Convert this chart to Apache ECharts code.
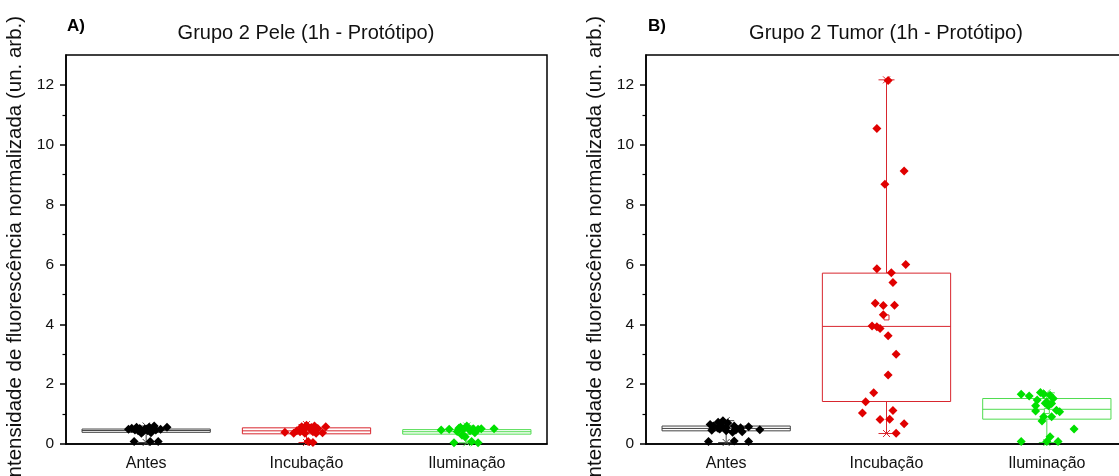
<!DOCTYPE html>
<html>
<head>
<meta charset="utf-8">
<script src="https://cdn.jsdelivr.net/npm/echarts@6/dist/echarts.min.js"></script>
<style>html,body{margin:0;padding:0;background:#fff;}#c{width:1119px;height:476px;}</style>
</head>
<body>
<div id="c"></div>
<script>
// ---------- data ----------
const categories = ['Antes', 'Incubação', 'Iluminação'];
const yTicks = [0, 2, 4, 6, 8, 10, 12];
const yMinorTicks = [1, 3, 5, 7, 9, 11];

// Panel A: Pele — summary [min, Q1, median, Q3, max, mean]
const peleStats = [
  [0.05, 0.39, 0.45, 0.50, 0.60, 0.44],
  [0.05, 0.34, 0.44, 0.54, 0.65, 0.45],
  [0.04, 0.33, 0.41, 0.48, 0.60, 0.42]
];
const peleAntes = [0.49,0.47,0.52,0.36,0.49,0.56,0.47,0.60,0.42,0.38,0.49,0.56,0.08,0.08,0.08,0.44,0.44,0.56,0.47,0.50,0.53];
const peleAntesJitter = [-0.11,-0.07,-0.04,-0.03,-0.01,0.02,0.04,0.05,-0.02,0.03,0.09,0.13,-0.075,0.025,0.075,-0.05,0.01,-0.06,0.06,0.0,-0.09];
const peleIncub = [0.39,0.36,0.44,0.58,0.63,0.52,0.36,0.41,0.52,0.38,0.58,0.41,0.08,0.05,0.36,0.47,0.55,0.60];
const peleIncubJitter = [-0.135,-0.08,-0.06,-0.03,0,0.02,-0.01,0.04,0.07,0.10,0.12,-0.04,0.01,0.04,0.06,-0.02,0.03,0.05];
const peleIlum = [0.47,0.49,0.42,0.56,0.49,0.60,0.44,0.51,0.49,0.51,0.51,0.29,0.04,0.08,0.04,0.24,0.38,0.53];
const peleIlumJitter = [-0.16,-0.11,-0.06,-0.04,-0.02,0,0.02,0.04,0.07,0.09,0.17,-0.03,-0.08,0.03,0.07,-0.01,0.05,-0.05];

// Panel B: Tumor
const tumorStats = [
  [0.05, 0.44, 0.52, 0.60, 0.78, 0.50],
  [0.35, 1.42, 3.93, 5.71, 12.17, 4.23],
  [0.05, 0.83, 1.16, 1.52, 1.71, 1.10]
];
const tumorAntes = [0.65,0.60,0.53,0.73,0.78,0.70,0.60,0.50,0.44,0.39,0.54,0.58,0.48,0.46,0.41,0.08,0.10,0.08,0.63,0.55,0.47];
const tumorAntesJitter = [-0.10,-0.08,-0.05,-0.05,-0.02,0.01,0.05,-0.04,0,0.04,0.09,0.14,0.21,-0.09,0.10,-0.11,0.05,0.14,-0.03,0.0,0.06];
const tumorIncub = [12.15,10.54,9.12,8.68,6.00,5.86,5.72,5.40,4.70,4.63,4.64,4.32,3.94,3.92,3.86,3.62,3.00,2.31,1.71,1.41,1.12,1.04,0.82,0.83,0.68,0.36];
const tumorIncubJitter = [0.01,-0.06,0.11,-0.01,0.12,-0.06,0.03,0.04,-0.07,-0.02,0.05,-0.02,-0.09,-0.06,-0.04,0.01,0.06,0.01,-0.08,-0.13,0.04,-0.15,-0.04,0.02,0.11,0.06];
const tumorIlum = [1.66,1.60,1.72,1.66,1.47,1.63,1.52,1.36,1.28,1.28,1.13,1.08,1.10,0.91,0.91,0.77,0.50,0.24,0.08,0.08,0.08,1.40,1.35];
const tumorIlumJitter = [-0.16,-0.11,-0.04,-0.02,-0.06,0.02,0.04,-0.01,-0.07,0.01,0.06,0.08,-0.07,-0.02,0.03,-0.03,0.17,0.02,-0.16,0.0,0.07,0.0,0.03];

// ---------- styles ----------
const boxColors = ['#444444', '#d8262e', '#4fdc4f'];
const pointColors = ['#000000', '#e00000', '#00e000'];
const FONT = 'Liberation Sans, Arial, sans-serif';

function pts(vals, jit, idx) {
  return vals.map((v, i) => [idx + jit[i], v]);
}

function boxRender(params, api) {
  const i = api.value(0);
  const mn = api.value(1), q1 = api.value(2), md = api.value(3), q3 = api.value(4), mx = api.value(5), mean = api.value(6);
  const col = boxColors[i];
  const half = api.size([1, 0])[0] * 0.4;
  const cx = api.coord([i, md])[0];
  const y = v => api.coord([i, v])[1];
  const st = { stroke: col, lineWidth: 1, fill: null };
  const capW = 8, xs = 3.5;
  const ch = [
    { type: 'line', shape: { x1: cx, y1: y(q3), x2: cx, y2: y(mx) }, style: st },
    { type: 'line', shape: { x1: cx, y1: y(q1), x2: cx, y2: y(mn) }, style: st },
    { type: 'line', shape: { x1: cx - capW, y1: y(mx), x2: cx + capW, y2: y(mx) }, style: st },
    { type: 'line', shape: { x1: cx - capW, y1: y(mn), x2: cx + capW, y2: y(mn) }, style: st },
    { type: 'line', shape: { x1: cx - xs, y1: y(mx) - xs, x2: cx + xs, y2: y(mx) + xs }, style: st },
    { type: 'line', shape: { x1: cx - xs, y1: y(mx) + xs, x2: cx + xs, y2: y(mx) - xs }, style: st },
    { type: 'line', shape: { x1: cx - xs, y1: y(mn) - xs, x2: cx + xs, y2: y(mn) + xs }, style: st },
    { type: 'line', shape: { x1: cx - xs, y1: y(mn) + xs, x2: cx + xs, y2: y(mn) - xs }, style: st },
    { type: 'rect', shape: { x: cx - half, y: y(q3), width: 2 * half, height: y(q1) - y(q3) }, style: { stroke: col, lineWidth: 1, fill: 'rgba(255,255,255,0)' } },
    { type: 'line', shape: { x1: cx - half, y1: y(md), x2: cx + half, y2: y(md) }, style: st },
    { type: 'rect', shape: { x: cx - 2.5, y: y(mean) - 2.5, width: 5, height: 5 }, style: { stroke: col, lineWidth: 1, fill: '#fff' } }
  ];
  return { type: 'group', children: ch };
}

function statsData(stats) {
  return stats.map((s, i) => [i, s[0], s[1], s[2], s[3], s[4], s[5]]);
}

const grids = [
  { left: 66, top: 55, width: 481, height: 389 },
  { left: 646, top: 55, width: 481, height: 389 }
].map(g => Object.assign(g, { show: true, borderColor: '#000', borderWidth: 1.5, backgroundColor: 'transparent', containLabel: false, outerBoundsMode: 'none' }));

const xAxes = [], yAxes = [];
[0, 1].forEach(g => {
  xAxes.push({
    type: 'category', gridIndex: g, data: categories, boundaryGap: true,
    axisLine: { onZero: false, lineStyle: { color: '#000', width: 1.5 } },
    axisTick: { alignWithLabel: true, inside: false, length: 6, lineStyle: { color: '#000', width: 1.5 } },
    axisLabel: { color: '#111', fontSize: 16, fontFamily: FONT, margin: 12 },
    splitLine: { show: false }
  });
  xAxes.push({
    type: 'value', gridIndex: g, min: -0.5, max: 2.5, show: false, splitLine: { show: false }
  });
  yAxes.push({
    type: 'value', gridIndex: g, min: 0, max: 13, position: 'left',
    name: 'Intensidade de fluorescência normalizada (un. arb.)',
    nameLocation: 'middle', nameGap: 40,
    nameTextStyle: { color: '#111', fontSize: 20.5, fontFamily: FONT },
    axisLine: { show: true, onZero: false, lineStyle: { color: '#000', width: 1.5 } },
    axisTick: { show: true, inside: false, length: 6, customValues: yTicks, lineStyle: { color: '#000', width: 1.5 } },
    axisLabel: { color: '#111', fontSize: 15.5, fontFamily: FONT, margin: 12, customValues: yTicks },
    splitLine: { show: false }
  });
  yAxes.push({
    type: 'value', gridIndex: g, min: 0, max: 13, position: 'left', offset: 0,
    axisLine: { show: false, onZero: false },
    axisTick: { show: true, inside: false, length: 3.5, customValues: yMinorTicks, lineStyle: { color: '#000', width: 1.2 } },
    axisLabel: { show: false },
    splitLine: { show: false }
  });
});

function scatter(data, xi, yi, color) {
  return {
    type: 'scatter', xAxisIndex: xi, yAxisIndex: yi, data: data,
    symbol: 'diamond', symbolSize: 9, itemStyle: { color: color, opacity: 1 }, z: 5, silent: true
  };
}

const series = [
  { type: 'custom', xAxisIndex: 0, yAxisIndex: 0, data: statsData(peleStats), renderItem: boxRender, z: 3, silent: true },
  scatter(pts(peleAntes, peleAntesJitter, 0), 1, 0, pointColors[0]),
  scatter(pts(peleIncub, peleIncubJitter, 1), 1, 0, pointColors[1]),
  scatter(pts(peleIlum, peleIlumJitter, 2), 1, 0, pointColors[2]),
  { type: 'custom', xAxisIndex: 2, yAxisIndex: 2, data: statsData(tumorStats), renderItem: boxRender, z: 3, silent: true },
  scatter(pts(tumorAntes, tumorAntesJitter, 0), 3, 2, pointColors[0]),
  scatter(pts(tumorIncub, tumorIncubJitter, 1), 3, 2, pointColors[1]),
  scatter(pts(tumorIlum, tumorIlumJitter, 2), 3, 2, pointColors[2])
];

const titleStyle = { color: '#111', fontSize: 20, fontWeight: 'normal', fontFamily: FONT };
const tagStyle = { color: '#000', fontSize: 17, fontWeight: 'bold', fontFamily: FONT };

const chart = echarts.init(document.getElementById('c'), null, { renderer: 'canvas' });
chart.setOption({
  animation: false,
  backgroundColor: '#fff',
  title: [
    { text: 'Grupo 2 Pele (1h - Protótipo)', left: 306, top: 23, textAlign: 'center', textStyle: titleStyle, padding: 0 },
    { text: 'Grupo 2 Tumor (1h - Protótipo)', left: 886, top: 23, textAlign: 'center', textStyle: titleStyle, padding: 0 },
    { text: 'A)', left: 67, top: 18, textStyle: tagStyle, padding: 0 },
    { text: 'B)', left: 648, top: 18, textStyle: tagStyle, padding: 0 }
  ],
  grid: grids,
  xAxis: xAxes,
  yAxis: yAxes,
  series: series
});
</script>
</body>
</html>
